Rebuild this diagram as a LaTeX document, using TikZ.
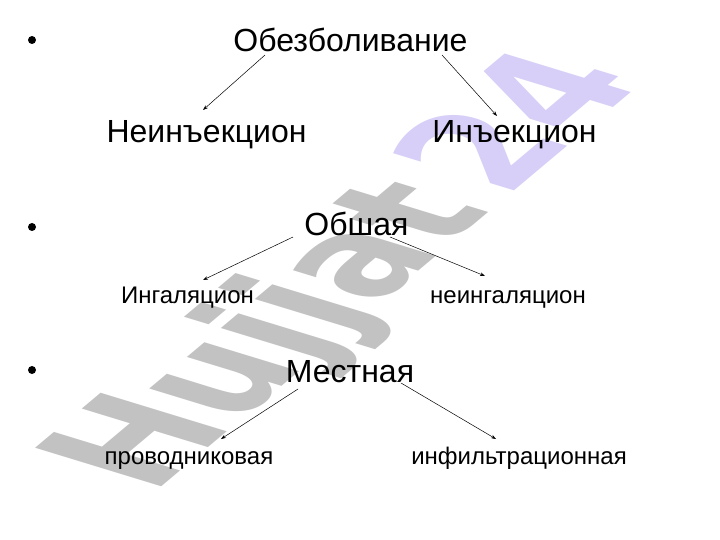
\documentclass[tikz,border=0pt]{standalone}
\usepackage{fontspec}
\setmainfont{Liberation Sans}
\newfontfamily\markfont{DejaVu Sans}
\usetikzlibrary{arrows.meta}
\definecolor{markgray}{RGB}{194,194,194}
\definecolor{marklilac}{RGB}{215,207,247}

\begin{document}
\begin{tikzpicture}[x=1pt,y=-1pt,
		big/.style={inner sep=0pt,anchor=base,font=\fontsize{32}{36}\selectfont},
		small/.style={inner sep=0pt,anchor=base,font=\fontsize{24}{28}\selectfont},
		bul/.style={circle,fill=black,inner sep=0pt,minimum size=8pt},
		arr/.style={-{Stealth[length=5pt,width=3.5pt]},line width=0.5pt}]
	\useasboundingbox (0,0) rectangle (720,540);
	\fill[white] (0,0) rectangle (720,540);
	\begin{scope}[cm={1.003,0.842,-1.731,0.529,(152,495)}]
		\node[transform shape,inner sep=0pt,anchor=base west,font=\markfont\bfseries\fontsize{100}{100}\selectfont] (mark) at (0,0) {\textcolor{markgray}{Hujjat}\hspace{0.15em}\textcolor{marklilac}{24}};
	\end{scope}
	\node[bul] (b1) at (32,40) {};
	\node[bul] (b2) at (32,227) {};
	\node[bul] (b3) at (32,370) {};
	\node[big] (obez) at (350.5,52) {Обезболивание};
	\node[big] (neinj) at (206.5,143) {Неинъекцион};
	\node[big] (inj) at (514.5,143) {Инъекцион};
	\node[big] (obsh) at (356.5,236) {Обшая};
	\node[small] (ingal) at (187.5,303) {Ингаляцион};
	\node[small] (neingal) at (508,303) {неингаляцион};
	\node[big] (mest) at (350,382) {Местная};
	\node[small] (provod) at (189,464) {проводниковая};
	\node[small] (infil) at (519,464) {инфильтрационная};
	\draw[arr] ([shift={(-85.5,3)}]obez.base) -- ([shift={(-3.5,-33)}]neinj.base);
	\draw[arr] ([shift={(91.5,3)}]obez.base) -- ([shift={(-17.5,-27)}]inj.base);
	\draw[arr] ([shift={(-63.5,1)}]obsh.base) -- ([shift={(15.5,-23)}]ingal.base);
	\draw[arr] ([shift={(33.5,1)}]obsh.base) -- ([shift={(-23,-27)}]neingal.base);
	\draw[arr] ([shift={(-52,7)}]mest.base) -- ([shift={(32,-25)}]provod.base);
	\draw[arr] ([shift={(51,1)}]mest.base) -- ([shift={(-23,-25)}]infil.base);
\end{tikzpicture}
\end{document}
